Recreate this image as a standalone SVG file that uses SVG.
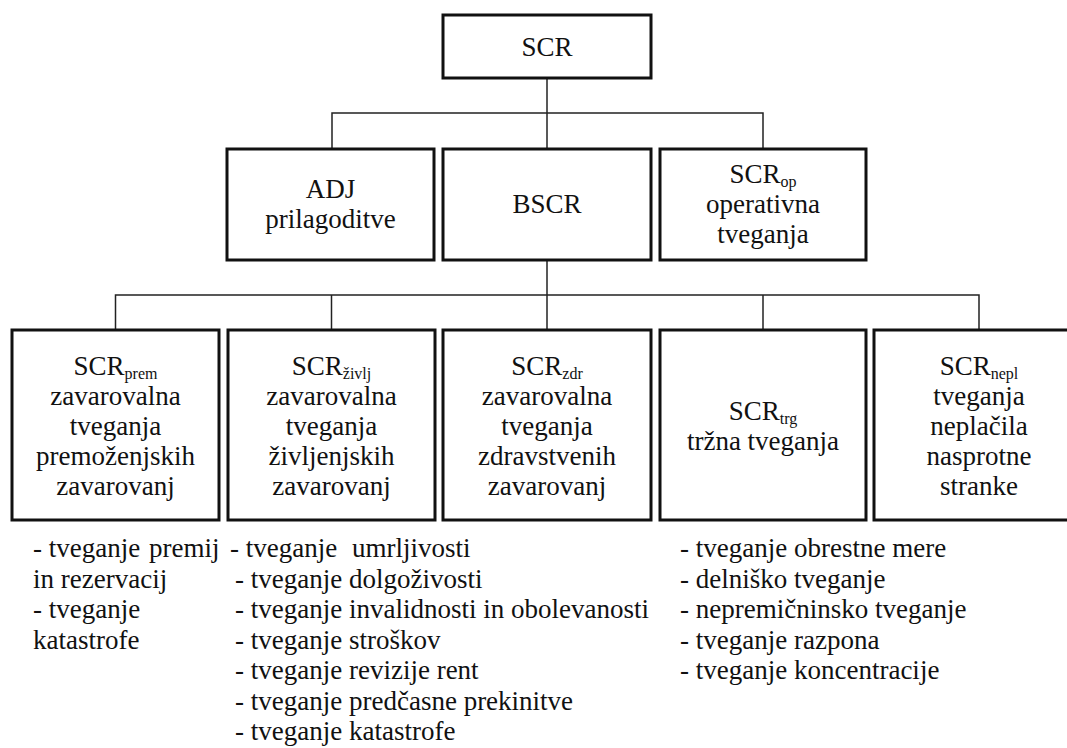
<svg xmlns="http://www.w3.org/2000/svg" width="1067" height="748" viewBox="0 0 1067 748">
<style>
  .box { fill: #ffffff; stroke: #111111; stroke-width: 3; }
  .conn { fill: none; stroke: #222222; stroke-width: 1.5; }
  text { font-family: "Liberation Serif", "Times New Roman", serif; font-size: 27px; fill: #111111; }
  .c { text-anchor: middle; }
  .sub { font-size: 16px; }
</style>
<rect width="1067" height="748" fill="#ffffff"/>
<g id="connectors">
  <path class="conn" d="M547 78 V149"/>
  <path class="conn" d="M332 149 V113 H763 V149"/>
  <path class="conn" d="M547 260 V330"/>
  <path class="conn" d="M115.5 330 V295 H979 V330"/>
  <path class="conn" d="M331.5 295 V330"/>
  <path class="conn" d="M763 295 V330"/>
</g>
<g id="scr">
  <rect class="box" x="443" y="15" width="208" height="63"/>
  <text class="c" x="547" y="56">SCR</text>
</g>
<g id="adj">
  <rect class="box" x="227" y="149" width="207" height="111"/>
  <text class="c" x="330.5" y="198">ADJ</text>
  <text class="c" x="330.5" y="228">prilagoditve</text>
</g>
<g id="bscr">
  <rect class="box" x="443" y="149" width="208" height="111"/>
  <text class="c" x="547" y="213">BSCR</text>
</g>
<g id="scr-op">
  <rect class="box" x="660" y="149" width="206" height="111"/>
  <text class="c" x="763" y="183">SCR<tspan class="sub" dy="4">op</tspan></text>
  <text class="c" x="763" y="213">operativna</text>
  <text class="c" x="763" y="243">tveganja</text>
</g>
<g id="scr-prem">
  <rect class="box" x="12" y="330" width="207" height="190"/>
  <text class="c" x="115.5" y="375">SCR<tspan class="sub" dy="4">prem</tspan></text>
  <text class="c" x="115.5" y="405">zavarovalna</text>
  <text class="c" x="115.5" y="435">tveganja</text>
  <text class="c" x="115.5" y="465">premoženjskih</text>
  <text class="c" x="115.5" y="495">zavarovanj</text>
</g>
<g id="scr-zivlj">
  <rect class="box" x="228" y="330" width="207" height="190"/>
  <text class="c" x="331.5" y="375">SCR<tspan class="sub" dy="4">življ</tspan></text>
  <text class="c" x="331.5" y="405">zavarovalna</text>
  <text class="c" x="331.5" y="435">tveganja</text>
  <text class="c" x="331.5" y="465">življenjskih</text>
  <text class="c" x="331.5" y="495">zavarovanj</text>
</g>
<g id="scr-zdr">
  <rect class="box" x="443" y="330" width="208" height="190"/>
  <text class="c" x="547" y="375">SCR<tspan class="sub" dy="4">zdr</tspan></text>
  <text class="c" x="547" y="405">zavarovalna</text>
  <text class="c" x="547" y="435">tveganja</text>
  <text class="c" x="547" y="465">zdravstvenih</text>
  <text class="c" x="547" y="495">zavarovanj</text>
</g>
<g id="scr-trg">
  <rect class="box" x="660" y="330" width="206" height="190"/>
  <text class="c" x="763" y="420">SCR<tspan class="sub" dy="4">trg</tspan></text>
  <text class="c" x="763" y="450">tržna tveganja</text>
</g>
<g id="scr-nepl">
  <rect class="box" x="874" y="330" width="210" height="190"/>
  <text class="c" x="979" y="375">SCR<tspan class="sub" dy="4">nepl</tspan></text>
  <text class="c" x="979" y="405">tveganja</text>
  <text class="c" x="979" y="435">neplačila</text>
  <text class="c" x="979" y="465">nasprotne</text>
  <text class="c" x="979" y="495">stranke</text>
</g>
<g id="list-prem">
  <text x="33" y="557">- tveganje<tspan x="149">premij</tspan></text>
  <text x="33" y="587.5">in rezervacij</text>
  <text x="33" y="618">- tveganje</text>
  <text x="33" y="648.5">katastrofe</text>
</g>
<g id="list-zivlj">
  <text x="230" y="557">- tveganje<tspan x="352">umrljivosti</tspan></text>
  <text x="235" y="587.5">- tveganje dolgoživosti</text>
  <text x="235" y="618">- tveganje invalidnosti in obolevanosti</text>
  <text x="235" y="648.5">- tveganje stroškov</text>
  <text x="235" y="679">- tveganje revizije rent</text>
  <text x="235" y="709.5">- tveganje predčasne prekinitve</text>
  <text x="235" y="740">- tveganje katastrofe</text>
</g>
<g id="list-trg">
  <text x="680" y="557">- tveganje obrestne mere</text>
  <text x="680" y="587.5">- delniško tveganje</text>
  <text x="680" y="618">- nepremičninsko tveganje</text>
  <text x="680" y="648.5">- tveganje razpona</text>
  <text x="680" y="679">- tveganje koncentracije</text>
</g>
</svg>
